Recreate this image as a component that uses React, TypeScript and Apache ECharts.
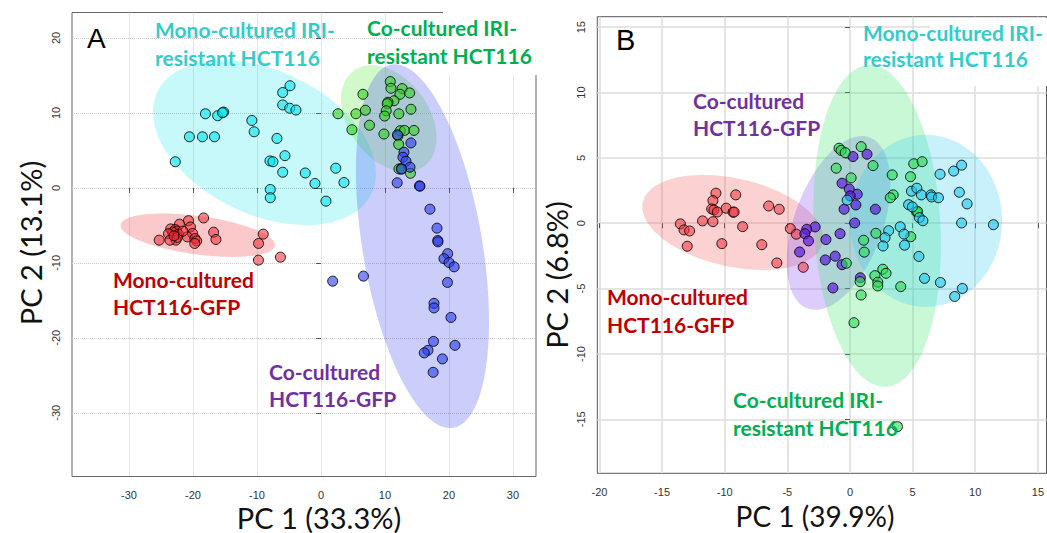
import React, { useEffect, useRef } from "react";
import * as echarts from "echarts";

// ---------- Panel A data (PC1 33.3%, PC2 13.1%) ----------
const monoGfpA: number[][] = [
  [-18.34, -4.01], [-20.7, -4.37], [-22.11, -4.84], [-20.39, -5.21], [-23.48, -5.47],
  [-22.77, -5.55], [-22.55, -5.77], [-23.17, -5.91], [-23.83, -6.11], [-22.27, -6.17],
  [-20.05, -6.08], [-20.89, -6.53], [-19.69, -6.75], [-19.42, -7.07], [-19.73, -7.41],
  [-22.66, -6.97], [-23.59, -6.97], [-22.45, -6.61], [-25.27, -6.97], [-16.77, -5.91],
  [-16.41, -6.88], [-9.02, -6.17], [-9.75, -7.41], [-9.77, -9.64], [-6.33, -9.24],
  [-21.56, -5.77], [-22.97, -6.4],
];
const monoIriA: number[][] = [
  [-4.84, 13.63], [-5.98, 12.72], [-5.98, 11.07], [-4.89, 10.63], [-3.91, 10.39],
  [-18.05, 9.89], [-16.14, 9.63], [-15.2, 10.12], [-15.39, 10.03], [-10.8, 9.0],
  [-10.44, 7.49], [-20.55, 6.82], [-18.52, 6.82], [-16.64, 6.82], [-6.88, 6.6],
  [-22.76, 3.49], [-7.97, 3.6], [-7.5, 3.49], [-5.63, 4.3], [-5.98, 2.09],
  [-2.45, 1.99], [-0.94, 0.59], [-7.92, -0.21], [-7.92, -1.31], [2.31, 2.63],
  [3.59, 0.72], [0.78, -1.77],
];
const coIriA: number[][] = [
  [10.83, 14.19], [10.94, 13.29], [12.69, 13.25], [12.34, 12.49], [13.86, 12.67],
  [6.56, 12.49], [11.41, 11.63], [10.47, 11.43], [10.36, 11.23], [10.2, 10.29],
  [9.95, 9.59], [12.16, 9.89], [14.06, 10.49], [2.66, 9.89], [5.47, 9.89],
  [6.95, 10.36], [7.58, 8.36], [4.84, 7.76], [9.84, 7.19], [12.39, 7.63],
  [13.05, 7.67], [14.53, 7.67], [12.03, 6.96], [12.14, 5.81], [12.19, 2.53],
  [12.58, 2.59], [13.98, 1.95],
];
const coGfpA: number[][] = [
  [14.06, 6.0], [11.95, 7.09], [12.97, 4.76], [12.81, 4.09], [13.28, 3.56],
  [13.91, 2.76], [12.58, 2.49], [11.91, 0.69], [15.39, 0.27], [15.47, 0.23],
  [17.03, -2.84], [18.13, -5.37], [18.25, -7.01], [18.28, -7.2], [19.8, -8.77],
  [19.22, -9.44], [20.0, -9.95], [20.81, -10.53], [19.77, -12.61], [1.83, -12.44],
  [6.64, -11.77], [17.66, -15.4], [17.66, -16.01], [20.31, -17.28], [17.58, -20.48],
  [20.94, -21.0], [16.72, -21.67], [16.14, -22.01], [18.98, -22.81], [17.53, -24.6],
];
// confidence ellipses: [cx, cy, ux, uy, vx, vy] (centre + two conjugate semi-axes, data units)
const ellMonoGfpA = [-19.25, -6.31, 12.06, -1.39, -0.4, -2.54];
const ellMonoIriA = [-8.83, 6.03, 16.74, -6.75, -4.8, -8.68];
const ellCoIriA = [10.59, 9.25, 5.51, -6.36, -5.04, -3.18];
const ellCoGfpA = [15.86, -7.77, 4.81, -24.23, -9.22, -1.33];

// ---------- Panel B data (PC1 39.9%, PC2 6.8%) ----------
const monoGfpB: number[][] = [
  [-10.7, 2.3], [-9.12, 2.17], [-10.94, 1.73], [-11.04, 1.09], [-10.86, 1.02],
  [-10.59, 0.86], [-9.88, 1.15], [-9.33, 0.84], [-9.25, 0.86], [-6.49, 1.32],
  [-5.65, 1.07], [-11.77, 0.18], [-10.94, 0.12], [-13.54, -0.05], [-13.25, -0.51],
  [-12.8, -0.59], [-8.57, -0.26], [-12.99, -1.76], [-10.23, -1.56], [-7.04, -1.64],
  [-4.76, -0.41], [-4.28, -0.84], [-5.84, -3.04], [-3.73, -3.37],
];
const coGfpB: number[][] = [
  [0.24, 5.1], [1.36, 5.28], [-0.63, 3.06], [-0.06, 2.62], [0.58, 2.22],
  [0.02, 2.09], [0.47, 1.4], [-0.47, 1.07], [2.03, 1.07], [0.37, 0.02],
  [-2.78, -0.28], [-3.45, -0.46], [-3.6, -0.8], [-3.31, -1.35], [-1.92, -1.25],
  [-0.79, -0.8], [-1.97, -2.81], [-1.18, -2.52], [-0.63, -3.17], [-4.02, -2.2],
  [0.83, -4.17], [-1.36, -4.95],
];
const coIriB: number[][] = [
  [-0.87, 5.74], [-0.71, 5.57], [-0.38, 5.4], [0.89, 5.86], [-1.1, 4.21],
  [0.09, 3.47], [1.84, 4.41], [3.37, 3.7], [5.09, 4.55], [5.76, 4.71],
  [4.83, 3.56], [3.45, 2.17], [3.22, 1.95], [5.32, 0.86], [5.4, 0.9],
  [1.09, -1.3], [2.07, -0.77], [1.14, -2.21], [-0.29, -3.06], [4.85, -1.03],
  [2.62, -3.52], [2.88, -3.83], [1.99, -4.01], [0.81, -4.47], [2.22, -4.51],
  [2.22, -4.8], [4.05, -4.85], [0.89, -5.49], [0.32, -7.61], [3.79, -15.56],
];
const monoIriB: number[][] = [
  [7.19, 3.75], [8.28, 3.99], [8.91, 4.44], [8.73, 2.37], [9.35, 1.48],
  [8.91, 0.02], [11.45, -0.11], [4.91, 2.45], [5.34, 2.68], [5.7, 2.17],
  [6.47, 2.17], [6.52, 2.01], [7.06, 1.95], [-0.22, 1.77], [4.68, 1.42],
  [4.98, 1.25], [5.54, 0.43], [5.82, 0.19], [3.09, -0.57], [2.8, -1.11],
  [2.64, -1.74], [4.01, -0.27], [4.31, -0.83], [4.36, -1.68], [5.5, -2.54],
  [5.95, -4.22], [7.22, -4.53], [8.97, -4.99], [8.36, -5.6],
];
const ellMonoGfpB = [-9.35, 0.06, 7.18, -1.54, -0.75, -3.29];
const ellCoGfpB = [-0.91, 0.02, 2.48, 6.54, 3.31, -1.18];
const ellCoIriB = [2.17, -0.21, 0.71, -12.31, -5.04, -0.27];
const ellMonoIriB = [6.07, 0.18, 0, -6.58, 6.07, 0];

// ---------- Axis ticks ----------
const ticksAX = [-30, -20, -10, 0, 10, 20, 30];
const ticksAY = [-30, -20, -10, 0, 10, 20];
const ticksBX = [-20, -15, -10, -5, 0, 5, 10, 15];
const ticksBY = [-15, -10, -5, 0, 5, 10, 15];

const C_CYAN = "#33CCCC";
const C_GREEN = "#00B050";
const C_RED = "#C00000";
const C_PURPLE = "#7030A0";

function ellipseSeries(e: number[], idx: number, fill: string) {
  return {
    type: "custom",
    xAxisIndex: idx,
    yAxisIndex: idx,
    z: 1,
    silent: true,
    dimensions: ["cx", "cy", "ux", "uy", "vx", "vy"],
    encode: { x: 0, y: 1 },
    data: [e],
    renderItem: (params: any, api: any) => {
      const cx = api.value(0), cy = api.value(1);
      const ux = api.value(2), uy = api.value(3);
      const vx = api.value(4), vy = api.value(5);
      const pts: number[][] = [];
      const n = 120;
      for (let i = 0; i < n; i++) {
        const t = (i / n) * Math.PI * 2;
        const c = Math.cos(t), s = Math.sin(t);
        pts.push(api.coord([cx + ux * c + vx * s, cy + uy * c + vy * s]));
      }
      return { type: "polygon", shape: { points: pts }, style: { fill, stroke: "none" } };
    },
  };
}

function scatterSeries(data: number[][], idx: number, fill: string) {
  return {
    type: "scatter",
    xAxisIndex: idx,
    yAxisIndex: idx,
    z: 3,
    symbol: "circle",
    symbolSize: 10,
    data,
    itemStyle: { color: fill, borderColor: "rgba(0,0,0,0.85)", borderWidth: 1, opacity: 1 },
  };
}

function xAxisCfg(idx: number, min: number, max: number, ticks: number[], dotted: boolean, margin: number) {
  return {
    type: "value",
    gridIndex: idx,
    min,
    max,
    axisLine: { show: false },
    axisTick: { show: true, customValues: ticks, length: 5, lineStyle: { color: "#555", width: 1 } },
    axisLabel: {
      customValues: ticks,
      fontSize: 11,
      color: "#333",
      fontFamily: "Liberation Sans",
      margin,
    },
    splitLine: {
      show: true,
      lineStyle: dotted ? { color: "#c8c8c8", type: "dotted", width: 1 } : { color: "#dcdcdc", type: "solid", width: 1.5 },
    },
  };
}

function yAxisCfg(idx: number, min: number, max: number, ticks: number[], dotted: boolean, margin: number) {
  return {
    type: "value",
    gridIndex: idx,
    min,
    max,
    axisLine: { show: false },
    axisTick: { show: true, customValues: ticks, length: 5, lineStyle: { color: "#555", width: 1 } },
    axisLabel: {
      customValues: ticks,
      fontSize: 11,
      color: "#333",
      fontFamily: "Liberation Sans",
      rotate: 90,
      margin,
    },
    splitLine: {
      show: true,
      lineStyle: dotted ? { color: "#c8c8c8", type: "dotted", width: 1 } : { color: "#dcdcdc", type: "solid", width: 1.5 },
    },
  };
}

function label(x: number, y: number, text: string, color: string) {
  return {
    type: "text",
    x,
    y,
    z: 60,
    style: {
      text,
      fill: color,
      font: "bold 21px Lato",
      align: "left",
      verticalAlign: "middle",
    },
  };
}

export default function App() {
  const ref = useRef<HTMLDivElement>(null);
  useEffect(() => {
    if (!ref.current) return;
    const chart = echarts.init(ref.current, null, { renderer: "svg" });
    chart.setOption({
      animation: false,
      backgroundColor: "#ffffff",
      grid: [
        { left: 72, top: 12.5, width: 464, height: 464, show: true, borderColor: "#666", borderWidth: 1, backgroundColor: "transparent" },
        { left: 597.3, top: 16.7, width: 454.7, height: 456.6, show: true, borderColor: "#555", borderWidth: 1, backgroundColor: "transparent" },
      ],
      xAxis: [
        xAxisCfg(0, -38.9, 33.6, ticksAX, true, 13),
        xAxisCfg(1, -20.17, 15.69, ticksBX, false, 13),
      ],
      yAxis: [
        yAxisCfg(0, -38.5, 23.4, ticksAY, true, 11),
        yAxisCfg(1, -19.13, 15.8, ticksBY, false, 11),
      ],
      series: [
        ellipseSeries(ellMonoIriA, 0, "rgba(0,229,238,0.22)"),
        ellipseSeries(ellMonoGfpA, 0, "rgba(245,60,70,0.28)"),
        ellipseSeries(ellCoIriA, 0, "rgba(90,235,60,0.28)"),
        ellipseSeries(ellCoGfpA, 0, "rgba(70,80,240,0.28)"),
        scatterSeries(monoIriA, 0, "rgba(0,230,240,0.6)"),
        scatterSeries(monoGfpA, 0, "rgba(240,40,50,0.55)"),
        scatterSeries(coIriA, 0, "rgba(50,210,30,0.6)"),
        scatterSeries(coGfpA, 0, "rgba(40,60,240,0.6)"),

        ellipseSeries(ellMonoGfpB, 1, "rgba(240,70,70,0.25)"),
        ellipseSeries(ellCoGfpB, 1, "rgba(140,90,250,0.3)"),
        ellipseSeries(ellCoIriB, 1, "rgba(60,230,110,0.28)"),
        ellipseSeries(ellMonoIriB, 1, "rgba(40,200,245,0.25)"),
        scatterSeries(monoGfpB, 1, "rgba(240,50,60,0.55)"),
        scatterSeries(coGfpB, 1, "rgba(90,30,220,0.7)"),
        scatterSeries(coIriB, 1, "rgba(40,220,80,0.6)"),
        scatterSeries(monoIriB, 1, "rgba(30,200,240,0.6)"),
      ],
      graphic: [
        { type: "rect", z: 55, shape: { x: 443, y: 0, width: 100, height: 75 }, style: { fill: "#ffffff" } },
        { type: "rect", z: 55, shape: { x: 930, y: 18, width: 117, height: 68 }, style: { fill: "#ffffff" } },
        { type: "text", x: 87, y: 38, z: 60, style: { text: "A", fill: "#000", font: "28px 'Liberation Sans'", align: "left", verticalAlign: "middle" } },
        { type: "text", x: 616, y: 40, z: 60, style: { text: "B", fill: "#000", font: "29px 'Liberation Sans'", align: "left", verticalAlign: "middle" } },
        label(155, 29, "Mono-cultured IRI-", C_CYAN),
        label(155, 57, "resistant HCT116", C_CYAN),
        label(367, 27, "Co-cultured IRI-", C_GREEN),
        label(367, 55, "resistant HCT116", C_GREEN),
        label(113, 279, "Mono-cultured", C_RED),
        label(113, 306, "HCT116-GFP", C_RED),
        label(269, 371, "Co-cultured", C_PURPLE),
        label(269, 398, "HCT116-GFP", C_PURPLE),
        label(863, 32, "Mono-cultured IRI-", C_CYAN),
        label(863, 58, "resistant HCT116", C_CYAN),
        label(693, 100, "Co-cultured", C_PURPLE),
        label(693, 127, "HCT116-GFP", C_PURPLE),
        label(607, 296, "Mono-cultured", C_RED),
        label(607, 324, "HCT116-GFP", C_RED),
        label(733, 399, "Co-cultured IRI-", C_GREEN),
        label(733, 427, "resistant HCT116", C_GREEN),
        { type: "text", x: 319, y: 517, z: 60, style: { text: "PC 1 (33.3%)", fill: "#111", font: "29px Lato", align: "center", verticalAlign: "middle" } },
        { type: "text", x: 815, y: 516, z: 60, style: { text: "PC 1 (39.9%)", fill: "#111", font: "28px Lato", align: "center", verticalAlign: "middle" } },
        { type: "text", x: 30, y: 243, z: 60, rotation: Math.PI / 2, style: { text: "PC 2 (13.1%)", fill: "#111", font: "29px Lato", align: "center", verticalAlign: "middle" } },
        { type: "text", x: 556, y: 275, z: 60, rotation: Math.PI / 2, style: { text: "PC 2 (6.8%)", fill: "#111", font: "29px Lato", align: "center", verticalAlign: "middle" } },
      ],
    });
    return () => chart.dispose();
  }, []);
  return <div ref={ref} style={{ position: "absolute", left: 0, top: 0, width: 1047, height: 533 }} />;
}
